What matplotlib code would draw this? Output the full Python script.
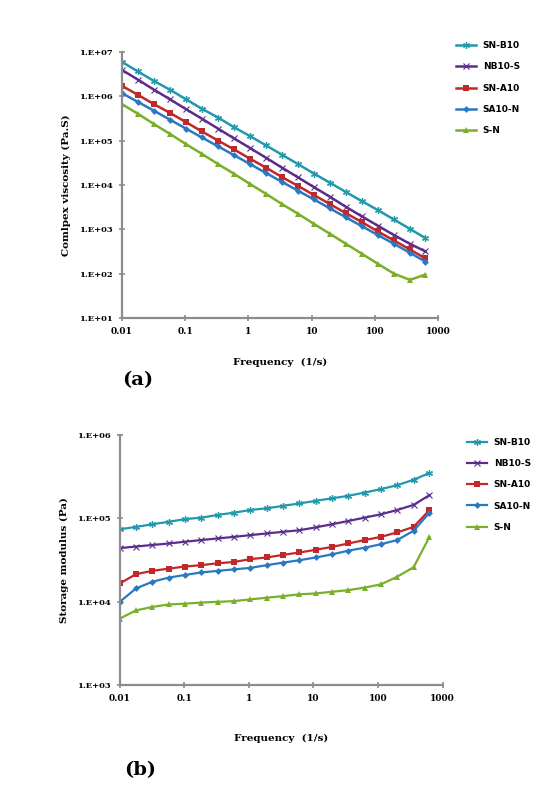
import matplotlib.pyplot as plt
from matplotlib.ticker import FixedLocator, NullLocator

# frequencies (1/s)
freq = [0.01, 0.0179, 0.032, 0.0573, 0.1026, 0.1836, 0.329, 0.589, 1.054, 1.887,
        3.38, 6.05, 10.83, 19.39, 34.7, 62.1, 111.2, 199.1, 356.5, 628.3]

series_names = ["SN-B10", "NB10-S", "SN-A10", "SA10-N", "S-N"]

# (a) complex viscosity (Pa.S)
visc_snb10 = [5.9e6, 3.6e6, 2.2e6, 1.4e6, 8.5e5, 5.2e5, 3.3e5, 2.0e5, 1.26e5, 7.8e4,
              4.8e4, 2.95e4, 1.8e4, 1.12e4, 6.9e3, 4.3e3, 2.7e3, 1.66e3, 1.02e3, 630]
visc_nb10s = [3.9e6, 2.35e6, 1.4e6, 8.5e5, 5.1e5, 3.1e5, 1.86e5, 1.12e5, 6.8e4, 4.1e4,
              2.45e4, 1.48e4, 8.9e3, 5.4e3, 3.2e3, 1.95e3, 1.2e3, 740, 470, 316]
visc_sna10 = [1.7e6, 1.07e6, 6.6e5, 4.2e5, 2.6e5, 1.6e5, 1.0e5, 6.3e4, 3.9e4, 2.45e4,
              1.5e4, 9.5e3, 5.9e3, 3.7e3, 2.3e3, 1.45e3, 890, 560, 350, 220]
visc_sa10n = [1.17e6, 7.4e5, 4.7e5, 2.95e5, 1.86e5, 1.17e5, 7.4e4, 4.7e4, 2.95e4, 1.86e4,
              1.17e4, 7.4e3, 4.7e3, 2.95e3, 1.86e3, 1.17e3, 740, 470, 295, 186]
visc_sn = [6.6e5, 4.0e5, 2.35e5, 1.41e5, 8.3e4, 5.0e4, 2.95e4, 1.78e4, 1.05e4, 6.3e3,
           3.7e3, 2.24e3, 1.32e3, 790, 470, 280, 166, 100, 72, 95]

# (b) storage modulus (Pa)
gp_snb10 = [7.4e4, 7.9e4, 8.5e4, 9.1e4, 9.8e4, 1.02e5, 1.10e5, 1.17e5, 1.26e5, 1.32e5,
            1.41e5, 1.51e5, 1.62e5, 1.74e5, 1.86e5, 2.04e5, 2.24e5, 2.5e5, 2.9e5, 3.5e5]
gp_nb10s = [4.4e4, 4.6e4, 4.8e4, 5.0e4, 5.25e4, 5.5e4, 5.75e4, 6.0e4, 6.3e4, 6.6e4,
            6.9e4, 7.2e4, 7.8e4, 8.5e4, 9.3e4, 1.02e5, 1.12e5, 1.26e5, 1.45e5, 1.9e5]
gp_sna10 = [1.66e4, 2.15e4, 2.35e4, 2.5e4, 2.65e4, 2.75e4, 2.9e4, 3.0e4, 3.25e4, 3.4e4,
            3.65e4, 3.9e4, 4.2e4, 4.55e4, 5.0e4, 5.5e4, 6.0e4, 6.8e4, 7.9e4, 1.26e5]
gp_sa10n = [1.0e4, 1.45e4, 1.74e4, 1.95e4, 2.1e4, 2.25e4, 2.35e4, 2.45e4, 2.55e4, 2.75e4,
            2.95e4, 3.15e4, 3.4e4, 3.7e4, 4.1e4, 4.45e4, 4.9e4, 5.5e4, 7.1e4, 1.17e5]
gp_sn = [6.3e3, 7.9e3, 8.7e3, 9.3e3, 9.5e3, 9.8e3, 1.0e4, 1.02e4, 1.07e4, 1.12e4,
         1.17e4, 1.23e4, 1.26e4, 1.32e4, 1.38e4, 1.48e4, 1.62e4, 2.0e4, 2.6e4, 6.0e4]

x_ticks = [0.01, 0.1, 1, 10, 100, 1000]
x_ticklabels = ["0.01", "0.1", "1", "10", "100", "1000"]

styles = {
    "SN-B10": dict(color="#2199ad", marker=(6, 2, 0), ms=5, mew=0.9),
    "NB10-S": dict(color="#5a2d8c", marker="x", ms=4, mew=0.8),
    "SN-A10": dict(color="#c0282a", marker="s", ms=5, mew=0),
    "SA10-N": dict(color="#2b78c2", marker="D", ms=3.5, mew=0),
    "S-N": dict(color="#7aae2c", marker="^", ms=5, mew=0),
}

serif = "DejaVu Serif"
axis_gray = "#8c8c8c"


def draw_panel(ax, data, yticks, yticklabels, ylim, ylabel, lw, xpad):
    for name, yvals in zip(series_names, data):
        st = styles[name]
        ax.plot(freq, yvals, color=st["color"], lw=lw, marker=st["marker"],
                markersize=st["ms"], markeredgewidth=st["mew"],
                markeredgecolor=st["color"], label=name)
    ax.set_xscale("log")
    ax.set_yscale("log")
    ax.set_xlim(0.01, 1000)
    ax.set_ylim(*ylim)
    ax.xaxis.set_major_locator(FixedLocator(x_ticks))
    ax.xaxis.set_minor_locator(NullLocator())
    ax.yaxis.set_major_locator(FixedLocator(yticks))
    ax.yaxis.set_minor_locator(NullLocator())
    ax.set_xticklabels(x_ticklabels, fontsize=6.5, family=serif, fontweight="bold")
    ax.set_yticklabels(yticklabels, fontsize=6, family=serif, fontweight="bold")
    ax.tick_params(direction="inout", length=5, width=1.2, color=axis_gray, pad=4)
    for side in ["top", "right"]:
        ax.spines[side].set_visible(False)
    for side in ["left", "bottom"]:
        ax.spines[side].set_color(axis_gray)
        ax.spines[side].set_linewidth(1.6)
    ax.set_ylabel(ylabel, fontsize=7.5, family=serif, fontweight="bold", labelpad=6)
    ax.set_xlabel("Frequency  (1/s)", fontsize=7.5, family=serif,
                  fontweight="bold", labelpad=xpad)


fig = plt.figure(figsize=(5.47, 7.85), dpi=100)

ax_a = fig.add_axes([0.223, 0.595, 0.578, 0.339])
draw_panel(
    ax_a,
    [visc_snb10, visc_nb10s, visc_sna10, visc_sa10n, visc_sn],
    [1e1, 1e2, 1e3, 1e4, 1e5, 1e6, 1e7],
    ["1.E+01", "1.E+02", "1.E+03", "1.E+04", "1.E+05", "1.E+06", "1.E+07"],
    (1e1, 1e7),
    "Comlpex viscosity (Pa.S)",
    1.8,
    16,
)
ax_a.legend(loc="upper left", bbox_to_anchor=(1.03, 1.07), frameon=False,
            handlelength=2.2, labelspacing=1.35,
            prop=dict(family="DejaVu Sans", weight="bold", size=6.5))

ax_b = fig.add_axes([0.219, 0.127, 0.590, 0.319])
draw_panel(
    ax_b,
    [gp_snb10, gp_nb10s, gp_sna10, gp_sa10n, gp_sn],
    [1e3, 1e4, 1e5, 1e6],
    ["1.E+03", "1.E+04", "1.E+05", "1.E+06"],
    (1e3, 1e6),
    "Storage modulus (Pa)",
    1.6,
    22,
)
ax_b.legend(loc="upper left", bbox_to_anchor=(1.05, 1.02), frameon=False,
            handlelength=2.2, labelspacing=1.35,
            prop=dict(family="DejaVu Sans", weight="bold", size=6.5))

fig.text(0.252, 0.516, "(a)", fontsize=14, family=serif, fontweight="bold",
         ha="center", va="center")
fig.text(0.256, 0.019, "(b)", fontsize=14, family=serif, fontweight="bold",
         ha="center", va="center")

fig.savefig("out.png", dpi=100)
